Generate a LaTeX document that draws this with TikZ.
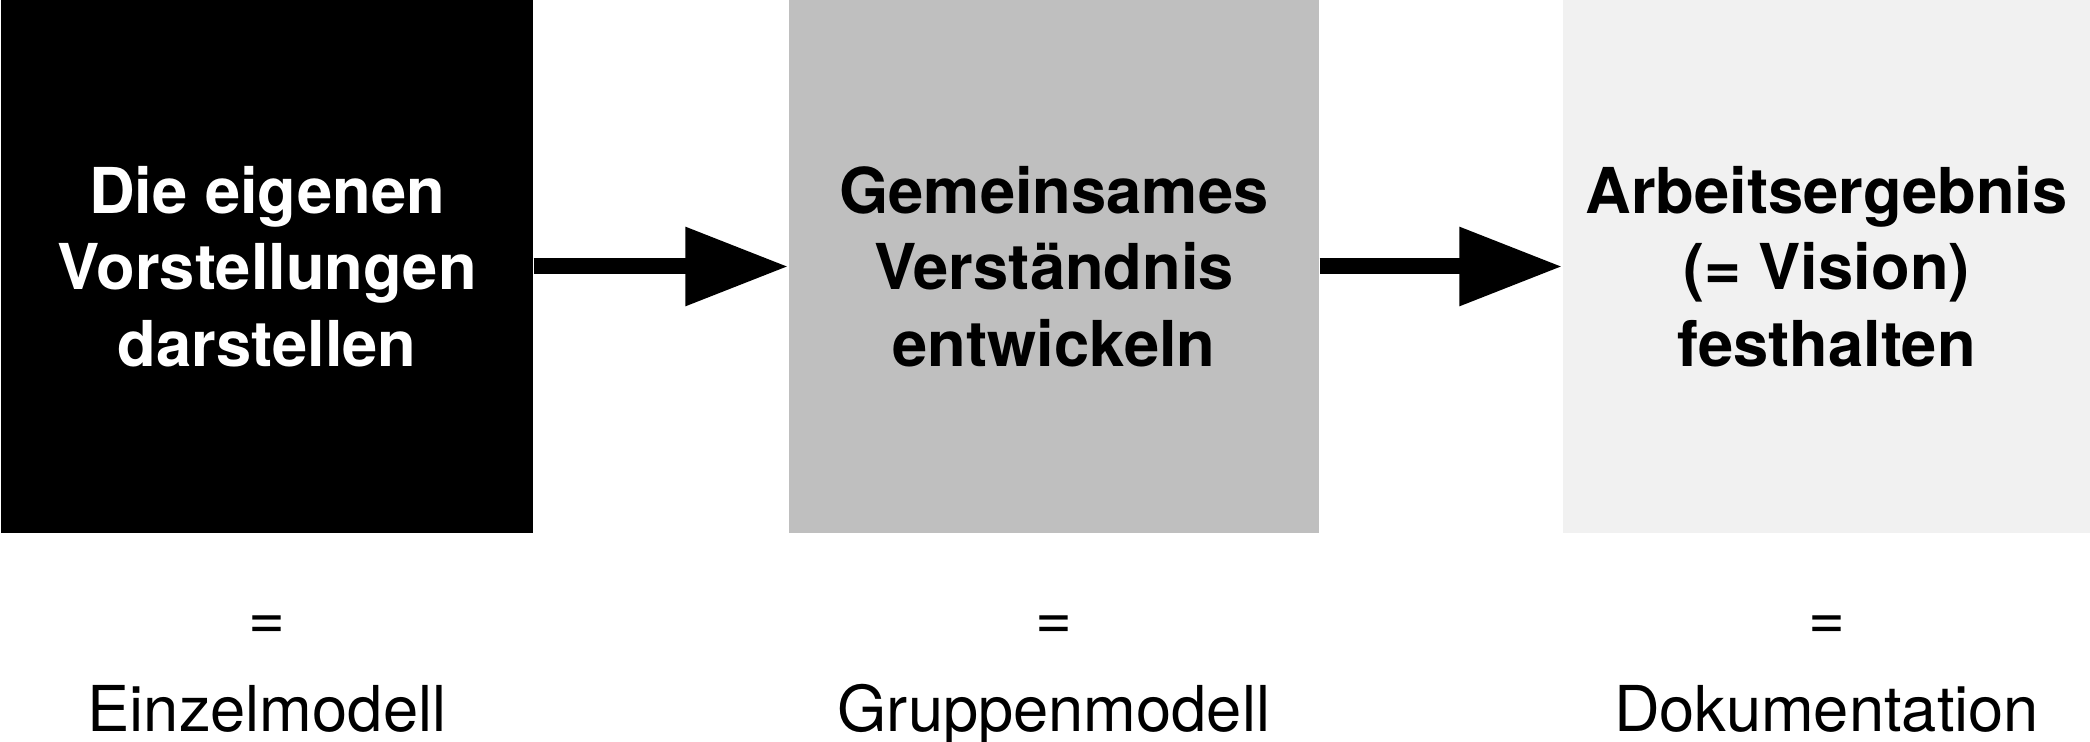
\documentclass[tikz,border=0pt]{standalone}
\usepackage{fontspec}
\setmainfont{TeX Gyre Heros}
\usetikzlibrary{arrows.meta}

\definecolor{midgray}{RGB}{191,191,191}
\definecolor{lightgray}{RGB}{241,241,241}

\begin{document}
\begin{tikzpicture}[
          box/.style={minimum height=5.33cm, inner sep=0pt, align=center, font=\fontsize{18}{21.8}\selectfont\bfseries},
          flow/.style={-{Triangle[length=1.03cm, width=0.75cm]}, line width=0.16cm},
          lbl/.style={anchor=base, inner sep=0pt, font=\fontsize{18}{22}\selectfont},
        ]
          \useasboundingbox (0,0) rectangle (20.9,-7.42);
          \node[box, fill=black, text=white, minimum width=5.32cm] (eigen) at (2.67,-2.665) {Die eigenen\\Vorstellungen\\darstellen};
          \node[box, fill=midgray, minimum width=5.30cm] (gemeinsam) at (10.54,-2.665) {Gemeinsames\\Verständnis\\entwickeln};
          \node[box, fill=lightgray, minimum width=5.27cm] (ergebnis) at (18.265,-2.665) {Arbeitsergebnis\\(= Vision)\\festhalten};
          \draw[flow] (eigen.east) -- (gemeinsam.west);
          \draw[flow] (gemeinsam.east) -- (ergebnis.west);
          \node[lbl] (eqeins) at (2.67,-6.39) {=};
          \node[lbl] (eqzwei) at (10.54,-6.39) {=};
          \node[lbl] (eqdrei) at (18.265,-6.39) {=};
          \node[lbl] (einzel) at (2.67,-7.31) {Einzelmodell};
          \node[lbl] (gruppe) at (10.54,-7.31) {Gruppenmodell};
          \node[lbl] (doku) at (18.265,-7.31) {Dokumentation};
        \end{tikzpicture}
\end{document}
